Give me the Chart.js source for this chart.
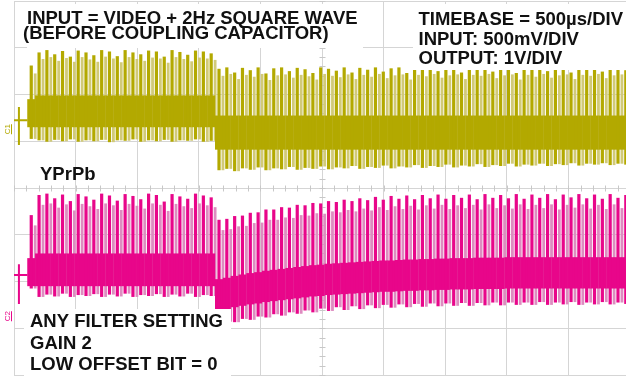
<!DOCTYPE html>
<html><head><meta charset="utf-8">
<script src="https://cdn.jsdelivr.net/npm/chart.js@4.4.1/dist/chart.umd.min.js"></script>
<style>
html,body{margin:0;padding:0;background:#fff;overflow:hidden;width:626px;height:377px;}
#wrap{position:relative;width:632px;height:377px;}
canvas{display:block;}
</style></head><body>
<div id="wrap"><canvas id="c" width="632" height="377"></canvas></div>
<script>
// time of each video line sync spike (µs from left edge of screen), timebase 500 µs/div
const lineTimes = [140,203.5,267,330.5,394,457.5,521,584.5,648,711.5,775,838.5,902,965.5,1029,1092.5,1156,1219.5,1283,1346.5,1410,1473.5,1537,1600.5,
1664,1727.5,1791,1854.5,1918,1981.5,2045,2108.5,2172,2235.5,2299,2362.5,2426,2489.5,2553,2616.5,2680,2743.5,2807,2870.5,2934,2997.5,3061,3124.5,3188,3251.5,3315,3378.5,3442,3505.5,3569,3632.5,3696,3759.5,3823,3886.5,3950,4013.5,4077,4140.5,4204,4267.5,4331,4394.5,4458,4521.5,4585,4648.5,4712,4775.5,4839,4902.5,4966];
// time of the faint (persistence) stripe within each line
const lightTimes = [172,235.5,299,362.5,426,489.5,553,616.5,680,743.5,807,870.5,934,997.5,1061,1124.5,1188,1251.5,1315,1378.5,1442,1505.5,1569,1632.5,
1696,1759.5,1823,1886.5,1950,2013.5,2077,2140.5,2204,2267.5,2331,2394.5,2458,2521.5,2585,2648.5,2712,2775.5,2839,2902.5,2966,3029.5,3093,3156.5,3220,3283.5,3347,3410.5,3474,3537.5,3601,3664.5,3728,3791.5,3855,3918.5,3982,4045.5,4109,4172.5,4236,4299.5,4363,4426.5,4490,4553.5,4617,4680.5,4744,4807.5,4871,4934.5,4998];

// Channel 1 (input, before coupling capacitor) – values in screen divisions
const ch1Top = [2.62,2.90,2.95,2.86,2.93,2.81,2.94,2.90,2.84,2.95,2.92,2.82,2.95,2.90,2.86,2.94,2.92,2.81,2.95,2.91,2.85,2.94,2.92,2.88,
2.55,2.58,2.47,2.57,2.52,2.58,2.45,2.56,2.58,2.50,2.57,2.54,2.46,2.58,2.55,2.51,2.58,2.47,2.57,2.53,2.58,2.49,2.56,2.58,2.46,2.57,2.54,2.58,2.50,2.56,2.58,2.47,2.57,2.55,2.58,2.49,2.56,2.58,2.46,2.57,2.53,2.58,2.50,2.56,2.58,2.47,2.57,2.55,2.58,2.49,2.56,2.58,2.52];
const ch1LightTop = [2.45,2.76,2.80,2.72,2.78,2.70,2.80,2.75,2.70,2.81,2.77,2.69,2.80,2.76,2.72,2.79,2.77,2.68,2.80,2.76,2.71,2.79,2.77,2.74,
2.40,2.44,2.33,2.42,2.38,2.44,2.31,2.41,2.43,2.36,2.42,2.39,2.32,2.44,2.40,2.37,2.43,2.33,2.42,2.38,2.44,2.35,2.41,2.43,2.32,2.42,2.39,2.44,2.36,2.41,2.43,2.33,2.42,2.40,2.44,2.35,2.41,2.43,2.32,2.42,2.38,2.44,2.36,2.41,2.43,2.33,2.42,2.40,2.44,2.35,2.41,2.43,2.38];
const ch1BodyHi = [1.90,1.98,1.98,1.98,1.98,1.98,1.98,1.98,1.98,1.98,1.98,1.98,1.98,1.98,1.98,1.98,1.98,1.98,1.98,1.98,1.98,1.98,1.98,1.98,
1.55,1.55,1.55,1.55,1.55,1.55,1.55,1.55,1.55,1.55,1.55,1.55,1.55,1.55,1.55,1.55,1.55,1.55,1.55,1.55,1.55,1.55,1.55,1.55,1.55,1.55,1.55,1.55,1.55,1.55,1.55,1.55,1.55,1.55,1.55,1.55,1.55,1.55,1.55,1.55,1.55,1.55,1.55,1.55,1.55,1.55,1.55,1.55,1.55,1.55,1.55,1.55,1.55];
const ch1BodyLo = [1.30,1.30,1.30,1.30,1.30,1.30,1.30,1.30,1.30,1.30,1.30,1.30,1.30,1.30,1.30,1.30,1.30,1.30,1.30,1.30,1.30,1.30,1.30,1.30,
0.82,0.82,0.82,0.82,0.82,0.82,0.82,0.82,0.82,0.82,0.82,0.82,0.82,0.82,0.82,0.82,0.82,0.82,0.82,0.82,0.82,0.82,0.82,0.82,0.82,0.82,0.82,0.82,0.82,0.82,0.82,0.82,0.82,0.82,0.82,0.82,0.82,0.82,0.82,0.82,0.82,0.82,0.82,0.82,0.82,0.82,0.82,0.82,0.82,0.82,0.82,0.82,0.82];
const ch1Bot = [1.05,1.02,0.99,1.03,1.00,1.04,0.99,1.02,1.00,1.03,0.98,1.02,1.01,1.04,0.99,1.02,1.00,1.03,0.99,1.02,1.01,1.04,0.99,1.01,
0.38,0.41,0.36,0.42,0.39,0.44,0.38,0.42,0.40,0.45,0.39,0.43,0.41,0.46,0.40,0.44,0.42,0.47,0.41,0.45,0.43,0.48,0.42,0.46,0.44,0.49,0.43,0.47,0.45,0.50,0.44,0.48,0.46,0.51,0.45,0.49,0.47,0.52,0.46,0.50,0.48,0.52,0.47,0.51,0.49,0.53,0.48,0.52,0.50,0.53,0.49,0.52,0.50];

// Channel 2 (output, gain 2)
const ch2Top = [-0.58,-0.15,-0.12,-0.22,-0.14,-0.28,-0.13,-0.18,-0.25,-0.12,-0.16,-0.27,-0.13,-0.17,-0.24,-0.12,-0.15,-0.29,-0.13,-0.18,-0.23,-0.12,-0.16,-0.20,
-0.68,-0.66,-0.60,-0.59,-0.53,-0.52,-0.46,-0.46,-0.41,-0.42,-0.36,-0.37,-0.32,-0.33,-0.28,-0.30,-0.25,-0.28,-0.22,-0.26,-0.19,-0.25,-0.17,-0.23,-0.16,-0.24,-0.15,-0.22,-0.14,-0.23,-0.15,-0.21,-0.14,-0.24,-0.13,-0.21,-0.15,-0.22,-0.13,-0.23,-0.14,-0.21,-0.13,-0.24,-0.14,-0.20,-0.13,-0.22,-0.14,-0.23,-0.13,-0.21,-0.15];
const ch2LightTop = [-0.80,-0.36,-0.33,-0.42,-0.35,-0.48,-0.34,-0.39,-0.45,-0.33,-0.37,-0.47,-0.34,-0.38,-0.44,-0.33,-0.36,-0.49,-0.34,-0.39,-0.43,-0.33,-0.37,-0.41,
-0.90,-0.88,-0.82,-0.81,-0.75,-0.74,-0.68,-0.68,-0.63,-0.64,-0.58,-0.59,-0.54,-0.55,-0.50,-0.52,-0.47,-0.50,-0.44,-0.48,-0.41,-0.47,-0.39,-0.45,-0.38,-0.46,-0.37,-0.44,-0.36,-0.45,-0.37,-0.43,-0.36,-0.46,-0.35,-0.43,-0.37,-0.44,-0.35,-0.45,-0.36,-0.43,-0.35,-0.46,-0.36,-0.42,-0.35,-0.44,-0.36,-0.45,-0.35,-0.43,-0.37];
const ch2BodyHi = [-1.50,-1.40,-1.40,-1.40,-1.40,-1.40,-1.40,-1.40,-1.40,-1.40,-1.40,-1.40,-1.40,-1.40,-1.40,-1.40,-1.40,-1.40,-1.40,-1.40,-1.40,-1.40,-1.40,-1.40,
-1.95,-1.92,-1.88,-1.85,-1.82,-1.80,-1.77,-1.75,-1.73,-1.71,-1.69,-1.67,-1.65,-1.64,-1.62,-1.61,-1.60,-1.59,-1.58,-1.57,-1.56,-1.55,-1.55,-1.54,-1.53,-1.53,-1.52,-1.52,-1.51,-1.51,-1.50,-1.50,-1.50,-1.49,-1.49,-1.49,-1.49,-1.48,-1.48,-1.48,-1.48,-1.48,-1.48,-1.48,-1.48,-1.48,-1.48,-1.48,-1.48,-1.48,-1.48,-1.48,-1.48];
const ch2BodyLo = [-2.10,-2.10,-2.10,-2.10,-2.10,-2.10,-2.10,-2.10,-2.10,-2.10,-2.10,-2.10,-2.10,-2.10,-2.10,-2.10,-2.10,-2.10,-2.10,-2.10,-2.10,-2.10,-2.10,-2.10,
-2.62,-2.59,-2.55,-2.52,-2.49,-2.47,-2.44,-2.42,-2.40,-2.38,-2.36,-2.34,-2.32,-2.31,-2.29,-2.28,-2.27,-2.26,-2.25,-2.24,-2.23,-2.22,-2.22,-2.21,-2.20,-2.20,-2.19,-2.19,-2.18,-2.18,-2.17,-2.17,-2.17,-2.16,-2.16,-2.16,-2.16,-2.15,-2.15,-2.15,-2.15,-2.15,-2.15,-2.15,-2.15,-2.15,-2.15,-2.15,-2.15,-2.15,-2.15,-2.15,-2.15];
const ch2Bot = [-2.15,-2.33,-2.28,-2.32,-2.26,-2.33,-2.29,-2.31,-2.27,-2.33,-2.28,-2.32,-2.26,-2.33,-2.29,-2.31,-2.27,-2.33,-2.28,-2.32,-2.26,-2.33,-2.29,-2.31,
-2.91,-2.86,-2.87,-2.80,-2.82,-2.75,-2.77,-2.70,-2.73,-2.66,-2.69,-2.62,-2.66,-2.58,-2.63,-2.55,-2.61,-2.53,-2.59,-2.51,-2.57,-2.50,-2.56,-2.49,-2.55,-2.48,-2.54,-2.47,-2.53,-2.47,-2.52,-2.46,-2.52,-2.46,-2.51,-2.45,-2.51,-2.45,-2.50,-2.45,-2.50,-2.44,-2.50,-2.45,-2.49,-2.44,-2.50,-2.45,-2.49,-2.44,-2.49,-2.45,-2.48];

// pre-trigger flat trace
const preTimes = [0, 40, 40, 40, 40, 110];
const ch1Pre = [1.45, 1.45, 1.73, 0.92, 1.45, 1.45];
const ch2Pre = [-1.86, -1.86, -1.63, -2.48, -1.86, -1.86];

// text
const noteTopLeft = ['INPUT = VIDEO + 2Hz SQUARE WAVE', '(BEFORE COUPLING CAPACITOR)'];
const noteTopRight = ['TIMEBASE = 500µs/DIV', 'INPUT: 500mV/DIV', 'OUTPUT: 1V/DIV'];
const noteBottom = ['ANY FILTER SETTING', 'GAIN 2', 'LOW OFFSET BIT = 0'];
const traceLabel = 'YPrPb';
const chLabels = ['C1', 'C2'];

const OLIVE = '#b3a900', OLIVE_L = '#d1ca78';
const PINK = '#e8068a', PINK_L = '#dd8cc0';
const GRID = '#d5d5d5';

const bars = (times, lo, hi) => times.map((t, i) => ({x: t, y: [lo[i], hi[i]]}));
const pts = (ys) => preTimes.map((t, i) => ({x: t, y: ys[i]}));

const barBase = {type: 'bar', borderWidth: 0, inflateAmount: 0, grouped: false, xAxisID: 'x'};

const deco = {
  id: 'deco',
  beforeDatasetsDraw(chart) {
    const c = chart.ctx, xs = chart.scales.x, ys = chart.scales.y;
    c.save();
    c.strokeStyle = '#c8c8c8'; c.lineWidth = 1;
    const y0 = Math.round(ys.getPixelForValue(0)) + 0.5;
    for (let t = 0; t <= 5000; t += 100) {
      const px = Math.round(xs.getPixelForValue(t)) + 0.5;
      c.beginPath(); c.moveTo(px, y0 - 3); c.lineTo(px, y0 + 3); c.stroke();
    }
    const x0 = Math.round(xs.getPixelForValue(2500)) + 0.5;
    for (let v = -4; v <= 4.001; v += 0.2) {
      const py = Math.round(ys.getPixelForValue(v)) + 0.5;
      c.beginPath(); c.moveTo(x0 - 3, py); c.lineTo(x0 + 3, py); c.stroke();
    }
    c.restore();
  },
  afterDatasetsDraw(chart) {
    const c = chart.ctx;
    c.save();
    c.fillStyle = '#ffffff';
    c.fillRect(27, 4, 336, 44);
    c.fillRect(413, 4, 213, 66);
    c.fillRect(24, 309, 207, 68);
    c.fillStyle = '#111111';
    c.font = 'bold 18.5px "Liberation Sans", Arial, sans-serif';
    c.textBaseline = 'alphabetic';
    c.fillText(noteTopLeft[0], 27, 24);
    c.fillText(noteTopLeft[1], 23, 38.5);
    c.fillText(noteTopRight[0], 418.5, 25);
    c.fillText(noteTopRight[1], 418.5, 44.5);
    c.fillText(noteTopRight[2], 418.5, 64);
    c.fillText(traceLabel, 40, 180);
    c.fillText(noteBottom[0], 30, 327);
    c.fillText(noteBottom[1], 30, 348.5);
    c.fillText(noteBottom[2], 30, 370);
    // channel ground markers
    c.font = '8px "Liberation Sans", Arial, sans-serif';
    c.textAlign = 'center'; c.textBaseline = 'middle';
    const ys = chart.scales.y;
    [[chLabels[0], 1, OLIVE], [chLabels[1], -3, PINK]].forEach(([txt, v, col]) => {
      const py = ys.getPixelForValue(v);
      c.save();
      c.translate(8, py - 12);
      c.rotate(-Math.PI / 2);
      c.fillStyle = col;
      c.fillText(txt, 0, 0);
      c.fillRect(-5, 3, 10, 1);
      c.restore();
    });
    c.restore();
  }
};

new Chart(document.getElementById('c'), {
  type: 'bar',
  data: {
    datasets: [
      {...barBase, label: 'ch1 dark', data: bars(lineTimes, ch1Bot, ch1Top), backgroundColor: OLIVE, barThickness: 3.2, order: 1},
      {...barBase, label: 'ch1 body', data: bars(lineTimes, ch1BodyLo, ch1BodyHi), backgroundColor: OLIVE, barThickness: 8, order: 2},
      {...barBase, label: 'ch1 light', data: bars(lightTimes, ch1Bot, ch1LightTop), backgroundColor: OLIVE_L, barThickness: 2.8, order: 3},
      {...barBase, label: 'ch2 dark', data: bars(lineTimes, ch2Bot, ch2Top), backgroundColor: PINK, barThickness: 3.2, order: 1},
      {...barBase, label: 'ch2 body', data: bars(lineTimes, ch2BodyLo, ch2BodyHi), backgroundColor: PINK, barThickness: 8, order: 2},
      {...barBase, label: 'ch2 light', data: bars(lightTimes, ch2Bot, ch2LightTop), backgroundColor: PINK_L, barThickness: 2.8, order: 3},
      {type: 'line', label: 'ch1 pre', data: pts(ch1Pre), borderColor: OLIVE, borderWidth: 2, pointRadius: 0, xAxisID: 'x', order: 0},
      {type: 'line', label: 'ch2 pre', data: pts(ch2Pre), borderColor: PINK, borderWidth: 2, pointRadius: 0, xAxisID: 'x', order: 0}
    ]
  },
  options: {
    responsive: false,
    animation: false,
    devicePixelRatio: 1,
    layout: {padding: {left: 14, right: 2, top: 1, bottom: 2}},
    plugins: {legend: {display: false}, tooltip: {enabled: false}},
    scales: {
      x: {type: 'linear', min: 0, max: 5000, offset: false,
          ticks: {display: false, stepSize: 500},
          grid: {color: GRID, drawTicks: false, offset: false},
          border: {display: true, color: GRID}},
      y: {type: 'linear', min: -4, max: 4, beginAtZero: false,
          ticks: {display: false, stepSize: 1},
          grid: {color: GRID, drawTicks: false},
          border: {display: true, color: GRID}}
    }
  },
  plugins: [deco]
});
</script>
</body></html>
